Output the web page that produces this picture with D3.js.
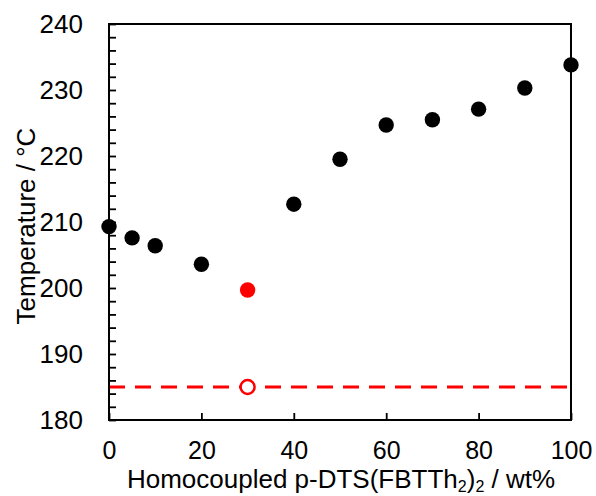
<!DOCTYPE html>
<html>
<head>
<meta charset="utf-8">
<script src="https://d3js.org/d3.v7.min.js"></script>
<style>
  body { margin: 0; background: #fff; }
  text { font-family: "Liberation Sans", Arial, sans-serif; fill: #000; }
</style>
</head>
<body>
<div id="chart"></div>
<script>
// data
const wtPercent = [0, 5, 10, 20, 40, 50, 60, 70, 80, 90, 100];
const temps = [209.3, 207.6, 206.4, 203.6, 212.7, 219.5, 224.7, 225.5, 227.1, 230.3, 233.8];
const redFilled = [{x: 30, y: 199.7}];
const redOpen = [{x: 30, y: 185}];
const dashLevel = 185;
const xTicks = [0, 20, 40, 60, 80, 100];
const yTicks = [180, 190, 200, 210, 220, 230, 240];

const width = 596, height = 496;
const margin = {top: 24, right: 25, bottom: 76, left: 109};

const svg = d3.select("#chart").append("svg")
    .attr("width", width)
    .attr("height", height);

const x = d3.scaleLinear().domain([0, 100]).range([margin.left, width - margin.right]);
const y = d3.scaleLinear().domain([180, 240]).range([height - margin.bottom, margin.top]);

// dashed reference line
svg.append("line")
    .attr("x1", x(0)).attr("x2", x(100))
    .attr("y1", y(dashLevel)).attr("y2", y(dashLevel))
    .attr("stroke", "#ff0000")
    .attr("stroke-width", 3)
    .attr("stroke-dasharray", "16,10");

// frame
svg.append("rect")
    .attr("x", x(0)).attr("y", y(240))
    .attr("width", x(100) - x(0))
    .attr("height", y(180) - y(240))
    .attr("fill", "none")
    .attr("stroke", "#000")
    .attr("stroke-width", 2);

// y axis, ticks inside, minor every 2
const yAxis = d3.axisLeft(y)
    .tickValues(d3.range(180, 241, 2))
    .tickSize(-7)
    .tickFormat(d => yTicks.includes(d) ? d : "");
const gy = svg.append("g").attr("transform", `translate(${x(0)},0)`).call(yAxis);
gy.select(".domain").remove();
gy.selectAll(".tick line").attr("stroke", "#000").attr("stroke-width", 1.8);
gy.selectAll(".tick text").attr("x", -26).attr("font-size", 26).style("font-family", "Liberation Sans, Arial, sans-serif");

// x axis
const xAxis = d3.axisBottom(x)
    .tickValues(xTicks)
    .tickSize(-7)
    .tickFormat(d => d);
const gx = svg.append("g").attr("transform", `translate(0,${y(180)})`).call(xAxis);
gx.select(".domain").remove();
gx.selectAll(".tick line").attr("stroke", "#000").attr("stroke-width", 1.8);
gx.selectAll(".tick text").attr("y", 21).attr("font-size", 25).style("font-family", "Liberation Sans, Arial, sans-serif");

// black points
svg.append("g").selectAll("circle")
    .data(wtPercent.map((w, i) => ({x: w, y: temps[i]})))
    .enter().append("circle")
    .attr("cx", d => x(d.x))
    .attr("cy", d => y(d.y))
    .attr("r", 7.7)
    .attr("fill", "#000");

// red filled point
svg.append("g").selectAll("circle")
    .data(redFilled)
    .enter().append("circle")
    .attr("cx", d => x(d.x))
    .attr("cy", d => y(d.y))
    .attr("r", 7.7)
    .attr("fill", "#ff0000");

// red open point
svg.append("g").selectAll("circle")
    .data(redOpen)
    .enter().append("circle")
    .attr("cx", d => x(d.x))
    .attr("cy", d => y(d.y))
    .attr("r", 7)
    .attr("fill", "#fff")
    .attr("stroke", "#ff0000")
    .attr("stroke-width", 2.5);

// axis titles
svg.append("text")
    .attr("transform", `translate(35,226) rotate(-90)`)
    .attr("text-anchor", "middle")
    .attr("font-size", 26)
    .text("Temperature / °C");

const xt = svg.append("text")
    .attr("x", 341)
    .attr("y", 488)
    .attr("text-anchor", "middle")
    .attr("font-size", 26);
xt.append("tspan").text("Homocoupled p-DTS(FBTTh");
xt.append("tspan").attr("font-size", 16).attr("dy", 3.5).text("2");
xt.append("tspan").attr("dy", -3.5).text(")");
xt.append("tspan").attr("font-size", 16).attr("dy", 3.5).text("2");
xt.append("tspan").attr("dy", -3.5).text(" / wt%");
</script>
</body>
</html>
